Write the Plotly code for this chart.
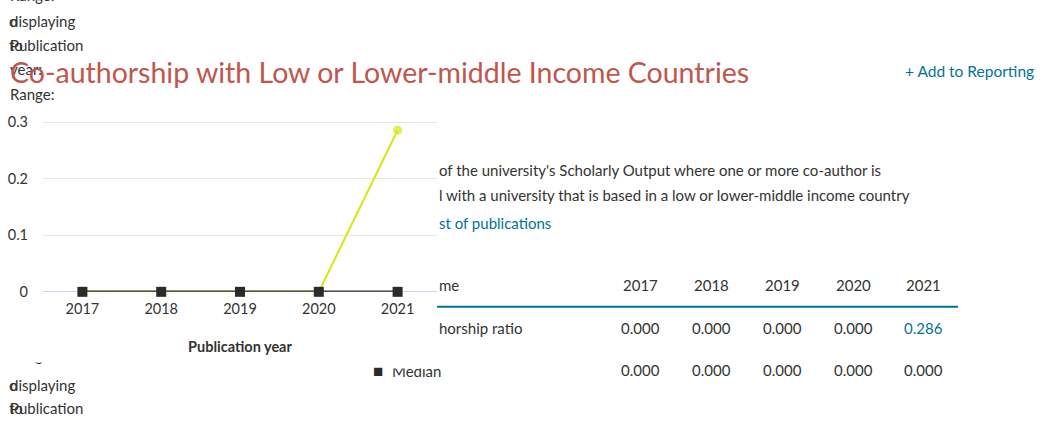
import plotly.graph_objects as go

W, H = 1051, 428
years = ["2017", "2018", "2019", "2020", "2021"]
ratio = [0.0, 0.0, 0.0, 0.0, 0.286]
median = [0.0, 0.0, 0.0, 0.0, 0.0]
y_ticks = [0, 0.1, 0.2, 0.3]
y_tick_text = ["0", "0.1", "0.2", "0.3"]

title = "Co-authorship with Low or Lower-middle Income Countries"
desc1 = "of the university's Scholarly Output where one or more co-author is"
desc2 = "l with a university that is based in a low or lower-middle income country"
link = "st of publications"
row1_label = "horship ratio"
row2_label = "Median"
header_label = "me"

FONT = "Lato"
DARK = "#333333"
TEAL = "#007398"
RED = "#c0564c"
YEL = "#d4e80c"

# empirical vertical correction of the capture
VA, VB = 7.0, 0.9645

def px(x):
    return x / W

def py(y):
    return 1 - ((y - VA) / VB) / H

fig = go.Figure()
fig.add_trace(go.Scatter(
    x=years, y=ratio, mode="lines+markers",
    line=dict(color=YEL, width=2),
    marker=dict(color=YEL, size=[0, 0, 0, 0, 10], symbol="circle"),
    cliponaxis=False, showlegend=False,
))
fig.add_trace(go.Scatter(
    x=years, y=median, mode="lines+markers",
    line=dict(color="#2b2b2b", width=2.5),
    marker=dict(color="#2b2b2b", size=10, symbol="square"),
    cliponaxis=False, showlegend=False,
))

ymax = 0.305
y0px, y03px = 292, 123
unit = (y0px - y03px) / 0.3
ytop = y0px - ymax * unit

fig.update_layout(
    width=W, height=H,
    margin=dict(l=0, r=0, t=0, b=0),
    paper_bgcolor="white", plot_bgcolor="white",
    font=dict(family=FONT, color=DARK, size=14),
    xaxis=dict(
        domain=[px(43), px(437)], type="category",
        range=[-0.5, 4.5], showgrid=False, zeroline=False,
        showline=False, ticks="", tickfont=dict(size=14.5, color=DARK),
        title=dict(text="<b>Publication year</b>", font=dict(size=14.5, color=DARK), standoff=25),
        ticklabelstandoff=7,
    ),
    yaxis=dict(
        domain=[py(y0px), py(ytop)], range=[0, ymax],
        tickvals=y_ticks, ticktext=y_tick_text,
        showgrid=True, gridcolor="#e6e6e6", gridwidth=1,
        zeroline=True, zerolinecolor="#c6d6ea", zerolinewidth=1,
        showline=False, ticks="", tickfont=dict(size=14.5, color=DARK),
        ticklabelstandoff=14,
    ),
)

ann = []

def text(x, y, s, size=15, color=DARK, xanchor="left", bold=False):
    if bold:
        s = "<b>" + s + "</b>"
    ann.append(dict(x=px(x), y=py(y), xref="paper", yref="paper", text=s,
                    showarrow=False, xanchor=xanchor, yanchor="middle",
                    font=dict(family=FONT, size=size, color=color)))

# overlapping left texts (top)
text(8, -4, "Range:")
text(8, 22, "displaying")
text(7, 22, "o")
text(8, 46, "Publication")
text(7, 46, "to")
text(8, 70, "year:")
text(8, 95, "Range:")

# title
text(8, 73, title, size=28.5, color=RED)
text(1036, 72, "+ Add to Reporting", size=15.5, color=TEAL, xanchor="right")

# description panel
text(437, 171, desc1)
text(437, 195, desc2)
text(437, 223, link, color=TEAL)

# table
cols_x = [640, 711, 782, 853, 923]
text(437, 285, header_label)
for cx, yr in zip(cols_x, years):
    text(cx, 285, yr, xanchor="center")
text(437, 328, row1_label)
for i, (cx, v) in enumerate(zip(cols_x, ratio)):
    text(cx, 328, f"{v:.3f}", xanchor="center", color=TEAL if v > 0 else DARK)
text(378, 370, "\u25a0", size=17, color="#2b2b2b", xanchor="center")
text(390, 371, row2_label)
for cx, v in zip(cols_x, median):
    text(cx, 370, f"{v:.3f}", xanchor="center")

# bottom-left overlapping texts
text(8, 355, "Range:")
text(8, 385, "displaying")
text(7, 385, "o")
text(8, 408, "Publication")
text(7, 408, "to")

# covers to mimic clipped top of "Median" and "Range:"
ann.append(dict(x=px(388), y=py(354), xref="paper", yref="paper", text="&nbsp;",
                showarrow=False, xanchor="left", yanchor="top", width=70, height=13,
                bgcolor="white", borderpad=0))
ann.append(dict(x=px(0), y=py(344), xref="paper", yref="paper", text="&nbsp;",
                showarrow=False, xanchor="left", yanchor="top", width=90, height=17,
                bgcolor="white", borderpad=0))

fig.update_layout(annotations=ann)

fig.add_shape(type="line", xref="paper", yref="paper",
              x0=px(437), x1=px(958), y0=py(307), y1=py(307),
              line=dict(color=TEAL, width=2))

post = (
    "document.documentElement.style.margin='0';"
    "document.documentElement.style.overflow='hidden';"
    "document.body.style.margin='0';"
    "document.body.style.padding='0';"
    "document.body.style.overflow='hidden';"
    "var d=document.getElementById('{plot_id}');"
    "d.style.position='fixed';d.style.top='0px';d.style.left='0px';"
)

fig.write_html("out.html", config={"displayModeBar": False}, post_script=post)
